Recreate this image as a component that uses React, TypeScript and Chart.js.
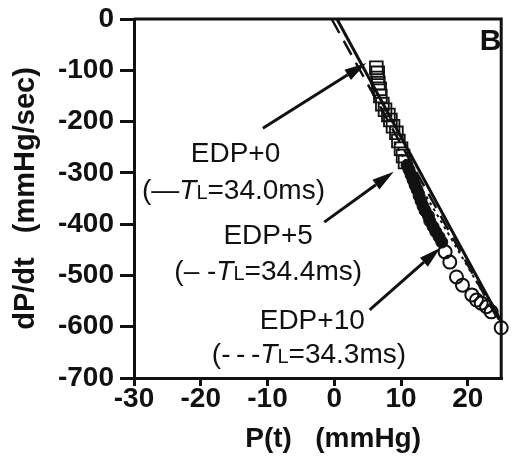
import React, { useEffect, useRef } from 'react';
import { Chart, registerables } from 'chart.js';

Chart.register(...registerables);

// ---- axis ticks ----
const xTicks = [-30, -20, -10, 0, 10, 20];
const yTicks = [0, -100, -200, -300, -400, -500, -600, -700];

// ---- data: EDP+0 (open squares) ----
const sqP = [6.3, 6.5, 6.5, 6.6, 6.8, 6.9, 7.2, 7.6, 8.1, 8.4, 8.8, 9.3, 9.6, 10.0, 10.3, 10.6];
const sqV = [-95, -105, -115, -125, -136, -150, -166, -177, -187, -197, -209, -222, -238, -253, -267, -279];

// ---- data: EDP+5 (filled circles) ----
const fcP = [10.9, 11.2, 11.5, 11.8, 12.1, 12.4, 12.7, 13.0, 13.3, 13.6, 14.1, 14.3, 14.8, 15.2, 15.7, 16.1];
const fcV = [-285, -294, -304, -314, -324, -333, -345, -355, -365, -374, -384, -394, -405, -415, -425, -435];

// ---- data: EDP+10 (open circles) ----
const ocP = [16.6, 17.3, 18.3, 19.2, 20.6, 21.3, 22.0, 22.8, 23.5, 25.0];
const ocV = [-454, -474, -503, -519, -538, -548, -554, -561, -571, -602];

// ---- fitted lines ----
const fit0P = [0.4, 25];
const fit0V = [0, -590];
const fit5P = [-0.4, 25];
const fit5V = [0, -597];
const fit10P = [9.0, 25];
const fit10V = [-240, -594];

// ---- annotations (data units) ----
const labelTexts = ['EDP+0', 'EDP+5', 'EDP+10'];
const labelP = [-14.8, -9.9, -3.3];
const labelV = [-259, -419, -585];
const fitPrefix = ['(\u2014', '(\u2013 -', '(-\u2009-\u2009-'];
const fitTL = ['34.0', '34.4', '34.3'];
const fitLabP = [-15.1, -9.9, -3.8];
const fitLabV = [-331, -489, -651];
const arrowFromP = [-10.7, -1.5, 5.3];
const arrowFromV = [-213, -396, -567];
const arrowToP = [4.8, 8.9, 15.9];
const arrowToV = [-86, -298, -446];
const panelLetter = 'B';
const panelP = 23.4;
const panelV = -45;

const FONT = "'Liberation Sans', Arial, Helvetica, sans-serif";
const INK = '#111';

const pts = (xs: number[], ys: number[]) => xs.map((x, i) => ({ x, y: ys[i] }));

const annotPlugin = {
  id: 'annot',
  afterDraw(chart: any) {
    const { ctx, chartArea, scales } = chart;
    const xs = scales.x;
    const ys = scales.y;
    ctx.save();
    // frame top + right
    ctx.strokeStyle = INK;
    ctx.lineWidth = 3;
    ctx.beginPath();
    ctx.moveTo(chartArea.left, chartArea.top);
    ctx.lineTo(chartArea.right, chartArea.top);
    ctx.lineTo(chartArea.right, chartArea.bottom);
    ctx.stroke();

    // arrows
    for (let i = 0; i < arrowFromP.length; i++) {
      const x0 = xs.getPixelForValue(arrowFromP[i]);
      const y0 = ys.getPixelForValue(arrowFromV[i]);
      const x1 = xs.getPixelForValue(arrowToP[i]);
      const y1 = ys.getPixelForValue(arrowToV[i]);
      const ang = Math.atan2(y1 - y0, x1 - x0);
      const hl = 22;
      const hw = 6;
      const bx = x1 - hl * Math.cos(ang);
      const by = y1 - hl * Math.sin(ang);
      ctx.strokeStyle = INK;
      ctx.lineWidth = 3;
      ctx.beginPath();
      ctx.moveTo(x0, y0);
      ctx.lineTo(bx, by);
      ctx.stroke();
      ctx.fillStyle = INK;
      ctx.beginPath();
      ctx.moveTo(x1, y1);
      ctx.lineTo(bx + hw * Math.sin(ang), by - hw * Math.cos(ang));
      ctx.lineTo(bx - hw * Math.sin(ang), by + hw * Math.cos(ang));
      ctx.closePath();
      ctx.fill();
    }

    // labels
    ctx.fillStyle = INK;
    ctx.textBaseline = 'alphabetic';
    const fs = 28;
    for (let i = 0; i < labelTexts.length; i++) {
      const cx = xs.getPixelForValue(labelP[i]);
      const cy = ys.getPixelForValue(labelV[i]);
      ctx.font = `${fs}px ${FONT}`;
      ctx.textAlign = 'center';
      ctx.fillText(labelTexts[i], cx, cy + fs * 0.36);

      const pieces = [
        { t: fitPrefix[i], f: `${fs}px ${FONT}` },
        { t: 'T', f: `italic ${fs}px ${FONT}` },
        { t: 'L', f: `${Math.round(fs * 0.72)}px ${FONT}` },
        { t: '=' + fitTL[i] + 'ms)', f: `${fs}px ${FONT}` },
      ];
      let total = 0;
      const widths: number[] = [];
      for (const p of pieces) {
        ctx.font = p.f;
        const w = ctx.measureText(p.t).width;
        widths.push(w);
        total += w;
      }
      const fx = xs.getPixelForValue(fitLabP[i]);
      const fy = ys.getPixelForValue(fitLabV[i]) + fs * 0.36;
      let px = fx - total / 2;
      ctx.textAlign = 'left';
      pieces.forEach((p, k) => {
        ctx.font = p.f;
        ctx.fillText(p.t, px, fy);
        px += widths[k];
      });
    }

    // panel letter
    ctx.font = `bold 30px ${FONT}`;
    ctx.textAlign = 'center';
    ctx.textBaseline = 'middle';
    ctx.fillText(panelLetter, xs.getPixelForValue(panelP), ys.getPixelForValue(panelV));
    ctx.restore();
  },
};

export default function App() {
  const ref = useRef<HTMLCanvasElement>(null);
  useEffect(() => {
    if (!ref.current) return;
    const tickFont = { family: FONT, size: 28, weight: 'bold' as const };
    const chart = new Chart(ref.current, {
      type: 'scatter',
      data: {
        datasets: [
          {
            label: 'EDP+10',
            data: pts(ocP, ocV),
            pointStyle: 'circle',
            pointRadius: 6.5,
            borderColor: INK,
            backgroundColor: 'rgba(255,255,255,0)',
            borderWidth: 2,
            clip: false as any,
            order: 1,
          },
          {
            label: 'EDP+5',
            data: pts(fcP, fcV),
            pointStyle: 'circle',
            pointRadius: 6,
            borderColor: INK,
            backgroundColor: INK,
            borderWidth: 1,
            clip: false as any,
            order: 2,
          },
          {
            label: 'EDP+0',
            data: pts(sqP, sqV),
            pointStyle: 'rect',
            pointRadius: 9,
            borderColor: INK,
            backgroundColor: 'rgba(255,255,255,0)',
            borderWidth: 1.8,
            clip: false as any,
            order: 3,
          },
          {
            label: 'fit EDP+0',
            data: pts(fit0P, fit0V),
            showLine: true,
            pointRadius: 0,
            borderColor: INK,
            borderWidth: 3,
            clip: false as any,
            order: 4,
          },
          {
            label: 'fit EDP+5',
            data: pts(fit5P, fit5V),
            showLine: true,
            pointRadius: 0,
            borderColor: INK,
            borderWidth: 2.5,
            borderDash: [16, 9],
            clip: false as any,
            order: 5,
          },
          {
            label: 'fit EDP+10',
            data: pts(fit10P, fit10V),
            showLine: true,
            pointRadius: 0,
            borderColor: INK,
            borderWidth: 2,
            borderDash: [3, 4],
            clip: false as any,
            order: 6,
          },
        ],
      },
      options: {
        animation: false,
        responsive: false,
        events: [],
        layout: { padding: { top: 11, right: 5, left: 0, bottom: 9 } },
        plugins: {
          legend: { display: false },
          tooltip: { enabled: false },
        },
        scales: {
          x: {
            type: 'linear',
            min: -30,
            max: 25,
            afterBuildTicks: (s: any) => {
              s.ticks = xTicks.map((v) => ({ value: v }));
            },
            afterFit: (s: any) => {
              s.height = 77;
              s.paddingLeft = 0;
              s.paddingRight = 0;
            },
            ticks: {
              color: INK,
              font: tickFont,
              padding: -4,
              maxRotation: 0,
              autoSkip: false,
              callback: (v: any) => String(v),
            },
            grid: {
              drawOnChartArea: false,
              drawTicks: true,
              tickLength: 8,
              color: INK,
              lineWidth: 3,
            },
            border: { display: true, color: INK, width: 3 },
            title: {
              display: true,
              text: '    P(t)   (mmHg)',
              color: INK,
              font: { family: FONT, size: 28, weight: 'bold', lineHeight: 1.1 },
              padding: 0,
            },
          },
          y: {
            type: 'linear',
            min: -700,
            max: 0,
            afterBuildTicks: (s: any) => {
              s.ticks = yTicks.map((v) => ({ value: v }));
            },
            afterFit: (s: any) => {
              s.width = 126;
              s.paddingTop = 0;
              s.paddingBottom = 0;
            },
            ticks: {
              color: INK,
              font: tickFont,
              padding: 6,
              autoSkip: false,
              callback: (v: any) => String(v),
            },
            grid: {
              drawOnChartArea: false,
              drawTicks: true,
              tickLength: 14,
              color: INK,
              lineWidth: 3,
            },
            border: { display: true, color: INK, width: 3 },
            title: {
              display: true,
              text: 'dP/dt   (mmHg/sec)',
              color: INK,
              font: { family: FONT, size: 29, weight: 'bold', lineHeight: 1.1 },
              padding: 2,
            },
          },
        },
      },
      plugins: [annotPlugin],
    });
    return () => chart.destroy();
  }, []);
  return (
    <div style={{ width: 504, height: 456 }}>
      <canvas ref={ref} width={504} height={456} style={{ display: 'block' }} />
    </div>
  );
}
